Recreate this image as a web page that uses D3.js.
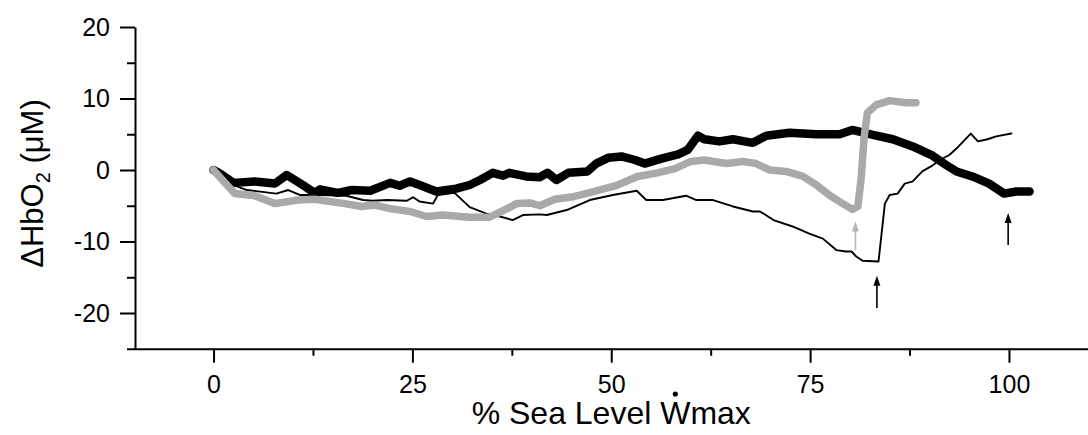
<!DOCTYPE html>
<html>
<head>
<meta charset="utf-8">
<script src="https://cdn.jsdelivr.net/npm/d3@7"></script>
<style>
  html, body { margin: 0; padding: 0; background: #fff; }
  svg { display: block; font-family: "Liberation Sans", Arial, Helvetica, sans-serif; }
</style>
</head>
<body>
<svg id="chart" width="1088" height="435"></svg>
<script>
// Thick black trace: % sea-level Wmax vs ΔHbO2 (µM)
const boldX = [0, 0.8, 2.5, 5.2, 7.7, 9.2, 11.5, 12.7, 13.4, 15.6, 17.4, 19.7, 22.2, 23.4, 24.7, 25.9, 28, 30.5, 32.2, 33.5, 35.1, 36.4, 37.2, 39.3, 41, 42, 43.1, 44.6, 47, 48.1, 49.6, 51.3, 53, 54.2, 56.3, 58.4, 59.6, 60.9, 61.7, 63.6, 65.3, 67.8, 69.5, 72.4, 75.8, 78.7, 80.3, 82.9, 85.4, 87.9, 90.4, 92.1, 93.4, 95.4, 97.5, 99.4, 100.9, 102.6];
const boldY = [0, -0.5, -1.8, -1.6, -1.9, -0.7, -2.3, -3.2, -2.7, -3.2, -2.8, -2.9, -1.8, -2.2, -1.6, -2.1, -3.0, -2.6, -2.1, -1.4, -0.4, -0.8, -0.4, -0.9, -1.0, -0.4, -1.4, -0.4, -0.2, 0.9, 1.7, 1.9, 1.4, 0.9, 1.6, 2.2, 2.8, 4.8, 4.3, 4.0, 4.3, 3.8, 4.8, 5.2, 5.0, 5.0, 5.6, 4.9, 4.3, 3.3, 2.0, 0.7, -0.2, -0.9, -1.9, -3.3, -3.0, -3.0];

// Thick grey trace
const greyX = [0, 1.2, 2.7, 5.2, 7.7, 10.6, 12.7, 16.5, 18.6, 20.3, 22.2, 24.7, 26.8, 28.8, 32.2, 34.7, 36.4, 38.1, 39.8, 41, 42.9, 45.4, 47.9, 50.8, 53.3, 55.8, 58, 60, 61.7, 64.5, 66.5, 68.2, 69.9, 72, 74.1, 75.8, 77.4, 79.1, 80.3, 81, 81.4, 81.8, 82.2, 83.3, 85, 87.1, 88.3];
const greyY = [0, -1.5, -3.3, -3.6, -4.7, -4.2, -4.1, -4.7, -5.1, -4.9, -5.4, -5.8, -6.5, -6.3, -6.6, -6.6, -5.7, -4.7, -4.6, -5.0, -4.1, -3.7, -3.0, -2.1, -0.9, -0.4, 0.2, 1.2, 1.4, 0.9, 1.2, 0.9, 0, -0.2, -0.9, -2.1, -3.5, -4.7, -5.5, -5.1, -1.4, 4.7, 8.0, 9.1, 9.7, 9.4, 9.4];

// Thin black trace
const fineX = [0, 1.5, 2.7, 4.2, 7.9, 9.4, 10.9, 13.5, 16.7, 18.8, 20, 21.8, 24.3, 25.1, 25.9, 27.6, 28.2, 30.3, 32.2, 34.3, 36, 37.6, 38.9, 41, 41.9, 44.4, 47.3, 50.2, 53.2, 54.4, 56.5, 59.4, 60.7, 62.8, 65.3, 67.8, 68.7, 70.4, 72.8, 74.9, 76.6, 78.3, 79.5, 80.2, 80.8, 81.6, 83.6, 84.4, 85, 86, 86.9, 87.9, 89.1, 90.2, 91.3, 92.5, 93.4, 95.2, 96.1, 97.3, 98.4, 100.3];
const fineY = [0, -1.2, -2.2, -2.8, -3.3, -2.8, -3.5, -3.5, -3.6, -4.2, -4.3, -4.2, -4.3, -3.8, -4.4, -4.7, -3.5, -3.2, -5.2, -6.1, -6.5, -7.0, -6.3, -6.2, -6.3, -5.6, -4.2, -3.5, -2.9, -4.2, -4.2, -3.6, -4.2, -4.2, -5.1, -5.8, -5.8, -7.0, -7.9, -8.9, -9.6, -11.2, -11.4, -11.4, -12.1, -12.7, -12.8, -4.7, -3.5, -3.3, -1.9, -1.6, -0.2, 0.5, 1.4, 2.1, 3.0, 5.1, 4.0, 4.3, 4.7, 5.1];

// Upward arrows marking each trace's end point
const arrowX    = [80.7, 83.4, 99.9];
const arrowFrom = [-11.2, -19.3, -10.5];
const arrowTo   = [-7.2, -14.8, -6.0];
const arrowShade = ["#b4b4b4", "#000000", "#000000"];

// Axis ticks
const xMajorTicks = [0, 25, 50, 75, 100];
const xMinorTicks = [12.5, 37.5, 62.5, 87.5];
const yMajorTicks = [-20, -10, 0, 10, 20];
const yMinorTicks = [-25, -15, -5, 5, 15];

const svg = d3.select("#chart");

const x = d3.scaleLinear().domain([-10, 110]).range([134, 1088.5]);
const y = d3.scaleLinear().domain([-25, 20]).range([348.75, 27]);

// ---- axes ----
const axisStyle = g => {
  g.selectAll("path.domain").attr("stroke", "#000").attr("stroke-width", 2);
  g.selectAll(".tick line").attr("stroke", "#000").attr("stroke-width", 2);
};

svg.append("g")
  .attr("transform", `translate(${x(-10) + 1},0)`)
  .call(d3.axisLeft(y).tickValues(yMinorTicks).tickSize(8).tickSizeOuter(0).tickFormat(""))
  .call(axisStyle)
  .call(g => g.select("path.domain").remove());

const yAxisG = svg.append("g")
  .attr("transform", `translate(${x(-10) + 1},0)`)
  .call(d3.axisLeft(y).tickValues(yMajorTicks).tickSize(15).tickPadding(10).tickSizeOuter(0).tickFormat(d => String(d)))
  .call(axisStyle);
yAxisG.selectAll("text")
  .attr("fill", "#000").attr("font-size", 25)
  .attr("font-family", '"Liberation Sans", Arial, sans-serif');

svg.append("g")
  .attr("transform", `translate(0,${y(-25)})`)
  .call(d3.axisBottom(x).tickValues(xMinorTicks).tickSize(7).tickSizeOuter(0).tickFormat(""))
  .call(axisStyle)
  .call(g => g.select("path.domain").remove());

const xAxisG = svg.append("g")
  .attr("transform", `translate(0,${y(-25)})`)
  .call(d3.axisBottom(x).tickValues(xMajorTicks).tickSize(14).tickPadding(12).tickSizeOuter(0).tickFormat(d => String(d)))
  .call(axisStyle);
xAxisG.selectAll("text")
  .attr("fill", "#000").attr("font-size", 25)
  .attr("font-family", '"Liberation Sans", Arial, sans-serif');

// ---- traces ----
const line = d3.line().x(d => x(d[0])).y(d => y(d[1]));
const zipXY = (xs, ys) => xs.map((v, i) => [v, ys[i]]);

const plot = svg.append("g").attr("fill", "none")
  .attr("stroke-linejoin", "round").attr("stroke-linecap", "round");

plot.append("path")
  .datum(zipXY(fineX, fineY))
  .attr("d", line)
  .attr("stroke", "#000").attr("stroke-width", 1.9);

plot.append("path")
  .datum(zipXY(boldX, boldY))
  .attr("d", line)
  .attr("stroke", "#000").attr("stroke-width", 8.5);

plot.append("path")
  .datum(zipXY(greyX, greyY))
  .attr("d", line)
  .attr("stroke", "#a9a9a9").attr("stroke-width", 7.5);

// ---- arrows ----
const arrows = svg.append("g");
arrowX.forEach((ax, i) => {
  const cx = x(ax), y0 = y(arrowFrom[i]), y1 = y(arrowTo[i]);
  const c = arrowShade[i];
  arrows.append("line")
    .attr("x1", cx).attr("x2", cx).attr("y1", y0).attr("y2", y1 + 8)
    .attr("stroke", c).attr("stroke-width", 1.6);
  arrows.append("path")
    .attr("d", `M${cx},${y1} L${cx - 3.5},${y1 + 10} L${cx + 3.5},${y1 + 10} Z`)
    .attr("fill", c);
});

// ---- axis titles ----
const xTitle = svg.append("text")
  .attr("x", x(50)).attr("y", 424)
  .attr("text-anchor", "middle")
  .attr("font-size", 32).attr("fill", "#000")
  .text("% Sea Level Wmax");
// dot over the W (power output, Ẇ)
const wIndex = "% Sea Level Wmax".indexOf("W");
const n = xTitle.node();
const s = n.getStartPositionOfChar(wIndex), e = n.getEndPositionOfChar(wIndex);
svg.append("circle")
  .attr("cx", (s.x + e.x) / 2).attr("cy", 394).attr("r", 2.6).attr("fill", "#000");

const yTitle = svg.append("text")
  .attr("transform", `translate(43,${(97 + 270) / 2}) rotate(-90)`)
  .attr("text-anchor", "middle")
  .attr("font-size", 31).attr("fill", "#000");
yTitle.append("tspan").text("\u0394HbO");
yTitle.append("tspan").attr("font-size", 20).attr("dy", 7).text("2");
yTitle.append("tspan").attr("dy", -7).text(" (\u03bcM)");
</script>
</body>
</html>
